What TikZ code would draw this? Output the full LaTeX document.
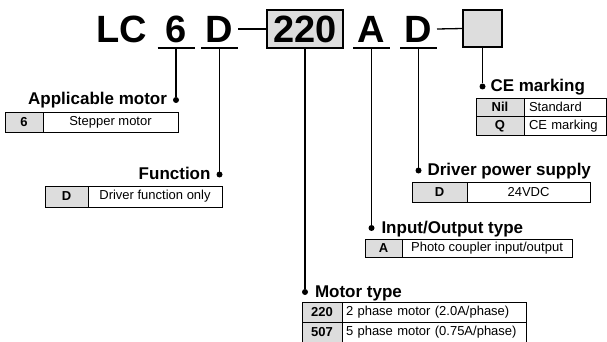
\documentclass[tikz,border=0pt]{standalone}
\usepackage{fontspec}
\setmainfont{Liberation Sans}
\usepackage{xcolor}
\usepackage{tikz}
\usetikzlibrary{positioning}
\definecolor{keygray}{HTML}{DDDDDD}

\begin{document}
\begin{tikzpicture}[
  x=1pt, y=-1pt,
  every node/.style={inner sep=0pt, outer sep=0pt},
  codechar/.style={font=\fontsize{38}{40}\selectfont\bfseries,
                   minimum width=37, minimum height=38},
  keybox/.style={codechar, draw, line width=1.3pt, fill=keygray},
  uline/.style={line width=1.3pt},
  conn/.style={line width=1.1pt},
  tipdot/.style={circle, fill=black, minimum size=6},
  heading/.style={font=\fontsize{17}{19}\selectfont\bfseries},
  cell/.style={draw, line width=0.8pt, anchor=north west,
               font=\fontsize{13}{15}\selectfont},
  codecell/.style={cell, fill=keygray, font=\fontsize{13}{15}\selectfont\bfseries},
  desccell/.style={cell},
]
\useasboundingbox (0,0) rectangle (607,342);

% model code
\node[codechar] (cLC) at (121.5,29) {LC};
\node[codechar] (c6) at (176,29) {6};
\node[codechar] (cD) at (219.5,29) {D};
\node[keybox, minimum width=76] (b220) at (305,29) {220};
\node[codechar] (cA) at (371.5,29) {A};
\node[codechar] (cDp) at (418.5,29) {D};
\node[keybox, minimum width=39, minimum height=37] (bCE) at (482.5,28.5) {};

\foreach \c in {c6,cD,cA,cDp}
  \draw[uline] (\c.south west) -- (\c.south east);
\draw[uline] (cD.east) -- (b220.west);
\draw[uline] (cDp.east) -- (bCE.west);

% leader dots
\node[tipdot] (d6) at (176,100) {};
\node[tipdot] (dD) at (219.5,174.5) {};
\node[tipdot] (dCE) at (482.5,86.5) {};
\node[tipdot] (dDp) at (418.5,170.5) {};
\node[tipdot] (dA) at (371.5,228) {};
\node[tipdot] (d220) at (305,292) {};

\draw[conn] (c6.south) -- (d6);
\draw[conn] (cD.south) -- (dD);
\draw[conn] (bCE.south) -- (dCE);
\draw[conn] (cDp.south) -- (dDp);
\draw[conn] (cA.south) -- (dA);
\draw[conn] (b220.south) -- (d220);

% headings
\node[heading, anchor=base east] (h6) at ([shift={(-9,5)}]d6.center) {Applicable motor};
\node[heading, anchor=base east] (hD) at ([shift={(-9,5)}]dD.center) {Function};
\node[heading, anchor=base west] (hCE) at ([shift={(8,5)}]dCE.center) {CE marking};
\node[heading, anchor=base west] (hDp) at ([shift={(9,5)}]dDp.center) {Driver power supply};
\node[heading, anchor=base west] (hA) at ([shift={(10,5)}]dA.center) {Input/Output type};
\node[heading, anchor=base west] (h220) at ([shift={(10,5)}]d220.center) {Motor type};

% applicable motor
\node[codecell, minimum width=38, minimum height=20] (k6) at (5,112) {6};
\node[desccell, minimum width=135, minimum height=20, right=0pt of k6] (v6) {Stepper motor};
% function
\node[codecell, minimum width=43, minimum height=21] (kD) at (45,186) {D};
\node[desccell, minimum width=134, minimum height=21, right=0pt of kD] (vD) {Driver function only};
% CE marking
\node[codecell, minimum width=48, minimum height=18.5] (kNil) at (476,98) {Nil};
\node[desccell, text width=72, align=left, inner xsep=5, minimum height=18.5,
      right=0pt of kNil] (vNil) {Standard};
\node[codecell, minimum width=48, minimum height=18.5, below=0pt of kNil] (kQ) {Q};
\node[desccell, text width=72, align=left, inner xsep=5, minimum height=18.5,
      right=0pt of kQ] (vQ) {CE marking};
% driver power supply
\node[codecell, minimum width=55, minimum height=20] (kDp) at (412,182) {D};
\node[desccell, minimum width=123, minimum height=20, right=0pt of kDp] (vDp) {24VDC};
% input/output type
\node[codecell, minimum width=37, minimum height=18] (kA) at (365,239) {A};
\node[desccell, minimum width=170, minimum height=18, right=0pt of kA] (vA) {Photo coupler input/output};
% motor type
\node[codecell, minimum width=40, minimum height=20] (k220) at (302,302) {220};
\node[desccell, text width=176, align=left, inner xsep=4, minimum height=20,
      right=0pt of k220] (v220) {2 phase motor (2.0A/phase)};
\node[codecell, minimum width=40, minimum height=20, below=0pt of k220] (k507) {507};
\node[desccell, text width=176, align=left, inner xsep=4, minimum height=20,
      right=0pt of k507] (v507) {5 phase motor (0.75A/phase)};
\end{tikzpicture}
\end{document}
